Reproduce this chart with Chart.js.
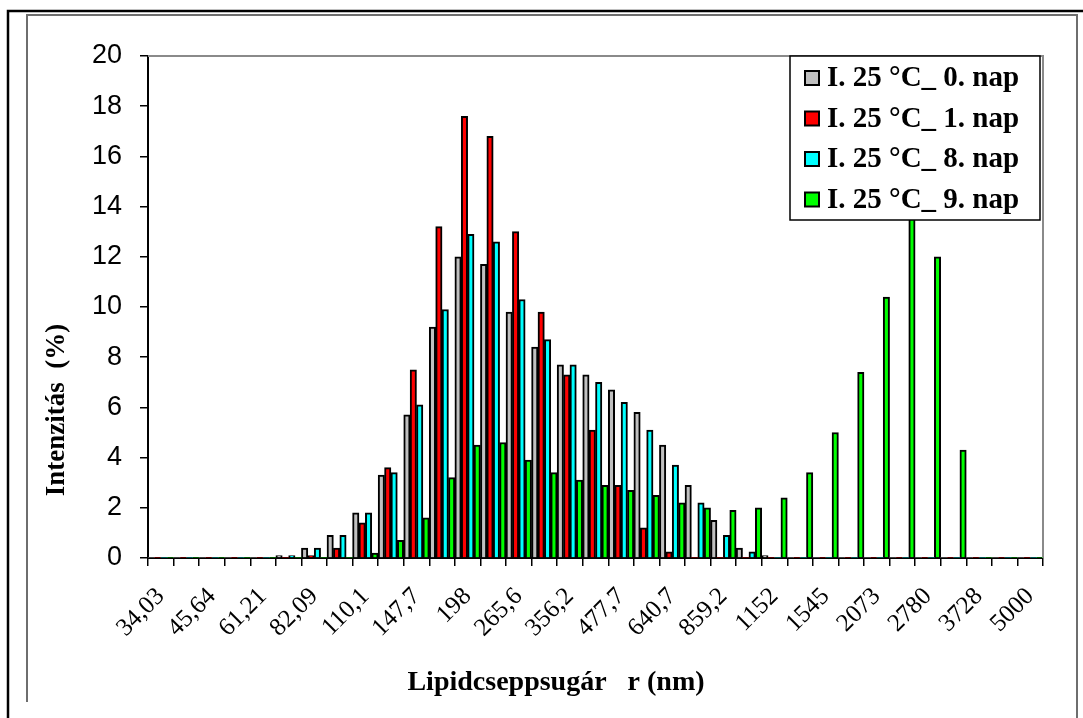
<!DOCTYPE html>
<html><head><meta charset="utf-8">
<script src="https://cdn.jsdelivr.net/npm/chart.js@4.4.0/dist/chart.umd.min.js"></script>
<style>html,body{margin:0;padding:0;background:#fff;}#wrap{width:1083px;height:718px;position:relative;}</style>
</head><body><div id="wrap"><canvas id="c" width="1083" height="718"></canvas></div>
<script>
const tickLabels = ['34,03','45,64','61,21','82,09','110,1','147,7','198','265,6','356,2','477,7','640,7','859,2','1152','1545','2073','2780','3728','5000'];
const categories = [];
tickLabels.forEach((t, i) => { categories.push(t); if (i < tickLabels.length - 1) categories.push(''); });

const seriesNames = ['I. 25 \u00B0C_ 0. nap', 'I. 25 \u00B0C_ 1. nap', 'I. 25 \u00B0C_ 8. nap', 'I. 25 \u00B0C_ 9. nap'];
const seriesColors = ['#C0C0C0', '#FF0000', '#00FFFF', '#00FF00'];

const day0 = [0,0,0,0,0,0.1,0.4,0.9,1.8,3.3,5.7,9.2,12.0,11.7,9.8,8.4,7.7,7.3,6.7,5.8,4.5,2.9,1.5,0.4,0.1,0,0,0,0,0,0,0,0,0,0];
const day1 = [0,0,0,0,0,0,0.1,0.4,1.4,3.6,7.5,13.2,17.6,16.8,13.0,9.8,7.3,5.1,2.9,1.2,0.25,0,0,0,0,0,0,0,0,0,0,0,0,0,0];
const day8 = [0,0,0,0,0,0.1,0.4,0.9,1.8,3.4,6.1,9.9,12.9,12.6,10.3,8.7,7.7,7.0,6.2,5.1,3.7,2.2,0.9,0.25,0,0,0,0,0,0,0,0,0,0,0];
const day9 = [0,0,0,0,0,0,0,0,0.2,0.7,1.6,3.2,4.5,4.6,3.9,3.4,3.1,2.9,2.7,2.5,2.2,2.0,1.9,2.0,2.4,3.4,5.0,7.4,10.4,14.5,12.0,4.3,0,0,0];
const seriesValues = [day0, day1, day8, day9];

const yTitle = 'Intenzitás  (%)';
const xTitle = 'Lipidcseppsugár   r (nm)';

const frames = {
  id: 'frames',
  beforeDraw(chart) {
    const ctx = chart.ctx;
    ctx.save();
    ctx.fillStyle = '#fff';
    ctx.fillRect(0, 0, chart.width, chart.height);
    ctx.strokeStyle = '#000'; ctx.lineWidth = 2.5;
    ctx.beginPath(); ctx.moveTo(8, 718); ctx.lineTo(8, 11); ctx.lineTo(1083, 11); ctx.stroke();
    ctx.strokeStyle = '#6e6e6e'; ctx.lineWidth = 2;
    ctx.beginPath(); ctx.moveTo(27, 702); ctx.lineTo(27, 15); ctx.lineTo(1077, 15); ctx.lineTo(1077, 718); ctx.stroke();
    ctx.fillStyle = '#000';
    ctx.font = 'bold 28px "Liberation Serif"';
    ctx.textAlign = 'center'; ctx.textBaseline = 'middle';
    ctx.fillText(xTitle, 556, 683);
    ctx.translate(57, 410);
    ctx.rotate(-Math.PI / 2);
    ctx.font = 'bold 27px "Liberation Serif"';
    ctx.fillText(yTitle, 0, 0);
    ctx.restore();
  },
  beforeDatasetsDraw(chart) {
    const ctx = chart.ctx, a = chart.chartArea;
    ctx.save();
    ctx.strokeStyle = '#8a8a8a'; ctx.lineWidth = 2;
    ctx.beginPath(); ctx.moveTo(a.left, a.top); ctx.lineTo(a.right, a.top); ctx.lineTo(a.right, a.bottom); ctx.stroke();
    ctx.restore();
  },
  afterDraw(chart) {
    const ctx = chart.ctx;
    const bx = 790, by = 56, bw = 250, bh = 164;
    ctx.save();
    ctx.fillStyle = '#fff';
    ctx.fillRect(bx, by, bw, bh);
    ctx.strokeStyle = '#000'; ctx.lineWidth = 1.5;
    ctx.strokeRect(bx, by, bw, bh);
    ctx.font = 'bold 29px "Liberation Serif"';
    ctx.textBaseline = 'middle';
    ctx.textAlign = 'left';
    chart.data.datasets.forEach((ds, i) => {
      const cy = 78 + i * 40.5;
      ctx.fillStyle = ds.backgroundColor;
      ctx.fillRect(805, cy - 7, 14, 14);
      ctx.strokeStyle = '#000'; ctx.lineWidth = 2;
      ctx.strokeRect(805, cy - 7, 14, 14);
      ctx.fillStyle = '#000';
      ctx.fillText(ds.label, 827, cy + 1);
    });
    ctx.restore();
  }
};

new Chart(document.getElementById('c'), {
  type: 'bar',
  data: {
    labels: categories,
    datasets: seriesValues.map((vals, i) => ({
      label: seriesNames[i],
      data: vals,
      backgroundColor: seriesColors[i],
      borderColor: '#000',
      borderWidth: (c) => (c.raw > 0 ? 2 : 0),
      categoryPercentage: 1.0,
      barPercentage: 1.0
    }))
  },
  options: {
    responsive: false,
    animation: false,
    devicePixelRatio: 1,
    layout: { padding: { left: 30, right: 40, top: 56, bottom: 0 } },
    plugins: { legend: { display: false }, tooltip: { enabled: false } },
    scales: {
      x: {
        afterFit: (s) => { s.height = 160; },
        grid: { display: true, drawOnChartArea: false, drawTicks: true, tickLength: 8, color: '#000', lineWidth: 1.5, offset: true },
        border: { display: true, color: '#000', width: 2 },
        ticks: {
          autoSkip: false, maxRotation: 45, minRotation: 45, padding: 16,
          color: '#000', font: { family: '"Liberation Serif"', size: 25 }
        }
      },
      y: {
        min: 0, max: 20,
        afterFit: (s) => { s.width = 118; },
        grid: { display: true, drawOnChartArea: false, drawTicks: true, tickLength: 8, color: '#000', lineWidth: 1.5 },
        border: { display: true, color: '#000', width: 2 },
        ticks: { stepSize: 2, padding: 18, color: '#000', font: { family: '"Liberation Sans"', size: 27 } }
      }
    }
  },
  plugins: [frames]
});
</script></body></html>
